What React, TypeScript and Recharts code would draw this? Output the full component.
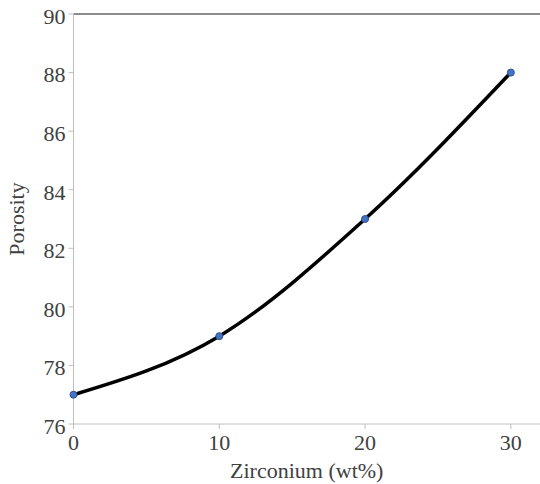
import React from 'react';
import { LineChart, Line, XAxis, YAxis, ReferenceLine } from 'recharts';

const zirconium = [0, 10, 20, 30];
const porosity = [77, 79, 83, 88];
const xTicks = [0, 10, 20, 30];
const yTicks = [76, 78, 80, 82, 84, 86, 88, 90];

const data = zirconium.map((z, i) => ({ z, p: porosity[i] }));

const FONT = '"Liberation Serif", "DejaVu Serif", serif';
const tickStyle = { fill: '#404040', fontSize: 22, fontFamily: FONT };

export default function App() {
	return (
		<div style={{ position: 'absolute', left: 0, top: 0, width: 540, height: 484, background: '#fff' }}>
			<LineChart width={540} height={484} data={data} margin={{ top: 14, right: 0, left: 0, bottom: 0 }}>
				<XAxis
					dataKey="z"
					type="number"
					domain={[0, 32]}
					ticks={xTicks}
					height={60}
					stroke="#bfbfbf"
					tickSize={5}
					tickMargin={5}
					tick={tickStyle}
					tickLine={{ stroke: '#bfbfbf' }}
					label={{
						value: 'Zirconium (wt%)',
						position: 'insideBottom',
						offset: 6,
						style: { fill: '#404040', fontSize: 22, fontFamily: FONT, textAnchor: 'middle' },
					}}
				/>
				<YAxis
					type="number"
					domain={[76, 90]}
					ticks={yTicks}
					width={73.5}
					stroke="#bfbfbf"
					tickSize={5}
					tickMargin={3}
					tick={{ ...tickStyle, dy: 2 }}
					tickLine={{ stroke: '#bfbfbf' }}
					label={{
						value: 'Porosity',
						angle: -90,
						position: 'insideLeft',
						dx: 11,
						style: { fill: '#404040', fontSize: 22, fontFamily: FONT, textAnchor: 'middle' },
					}}
				/>
				<ReferenceLine y={90} stroke="#8c8c8c" strokeWidth={2} />
				<Line
					type="monotone"
					dataKey="p"
					stroke="#000"
					strokeWidth={3.5}
					dot={{ r: 3.5, fill: '#4472c4', stroke: '#2f528f', strokeWidth: 1 }}
					isAnimationActive={false}
				/>
			</LineChart>
		</div>
	);
}
